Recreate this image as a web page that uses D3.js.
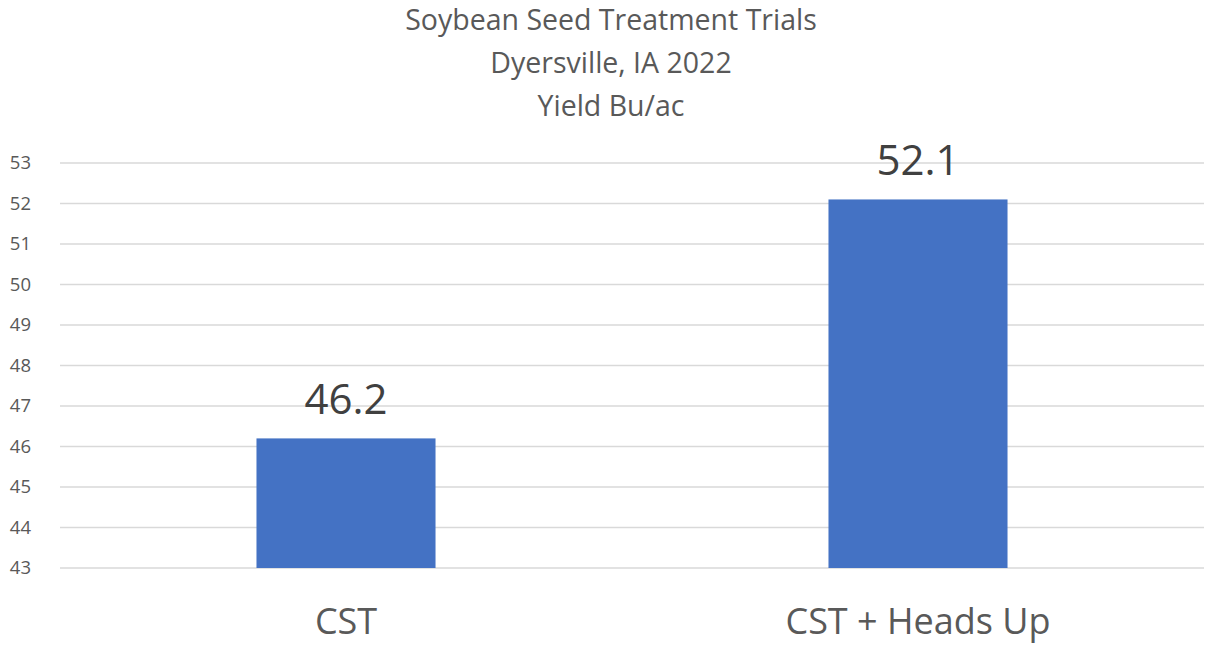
<!DOCTYPE html>
<html>
<head>
<meta charset="utf-8">
<script src="https://cdn.jsdelivr.net/npm/d3@7"></script>
<style>
  body { margin: 0; background: #fff; }
  text { font-family: "Open Sans", "Noto Sans", sans-serif; }
</style>
</head>
<body>
<div id="chart"></div>
<script>
"use strict";

var titleLines = ["Soybean Seed Treatment Trials", "Dyersville, IA 2022", "Yield Bu/ac"];
var categories = ["CST", "CST + Heads Up"];
var yields = [46.2, 52.1];
var yTicks = [43, 44, 45, 46, 47, 48, 49, 50, 51, 52, 53];

const width = 1205, height = 645;

let svg = d3.select("#chart").append("svg")
	.attr("width", width)
	.attr("height", height);

let x = d3.scaleBand()
	.domain(categories)
	.range([60, 1204])
	.paddingInner(0.687)
	.paddingOuter(0.3435);

let y = d3.scaleLinear()
	.domain([43, 53])
	.range([568, 163]);

// title
svg.append("g").selectAll("text")
	.data(titleLines)
	.enter()
	.append("text")
		.attr("x", 611)
		.attr("y", (d, i) => 30 + i * 43)
		.attr("text-anchor", "middle")
		.style("font-size", "28.5px")
		.style("fill", "#595959")
		.text(d => d);

// gridlines
svg.append("g").selectAll("line")
	.data(yTicks)
	.enter()
	.append("line")
		.attr("x1", 60)
		.attr("x2", 1204)
		.attr("y1", d => y(d))
		.attr("y2", d => y(d))
		.attr("stroke", "#d9d9d9")
		.attr("stroke-width", 1.3);

// y axis labels (no axis line)
let yAxis = d3.axisLeft(y).tickValues(yTicks).tickSize(0).tickPadding(0);
let yg = svg.append("g")
	.attr("transform", "translate(31,0)")
	.call(yAxis);
yg.select(".domain").remove();
yg.selectAll("text")
	.style("font-size", "18.5px")
	.style("fill", "#595959")
	.style("font-family", "'Open Sans', sans-serif");

// bars
svg.append("g").selectAll("rect")
	.data(yields)
	.enter()
	.append("rect")
		.attr("x", (d, i) => x(categories[i]))
		.attr("y", d => y(d))
		.attr("width", x.bandwidth())
		.attr("height", d => y(43) - y(d))
		.attr("fill", "#4472c4");

// data labels
svg.append("g").selectAll("text")
	.data(yields)
	.enter()
	.append("text")
		.attr("x", (d, i) => x(categories[i]) + x.bandwidth() / 2)
		.attr("y", d => y(d) - 24)
		.attr("text-anchor", "middle")
		.style("font-size", "42px")
		.style("fill", "#404040")
		.text(d => d.toFixed(1));

// category labels
let xAxis = d3.axisBottom(x).tickSize(0).tickPadding(0);
let xg = svg.append("g")
	.attr("transform", "translate(0,568)")
	.call(xAxis);
xg.select(".domain").remove();
xg.selectAll("text")
	.attr("dy", null)
	.attr("y", 66)
	.style("font-size", "36px")
	.style("fill", "#595959")
	.style("font-family", "'Open Sans', sans-serif");
</script>
</body>
</html>
